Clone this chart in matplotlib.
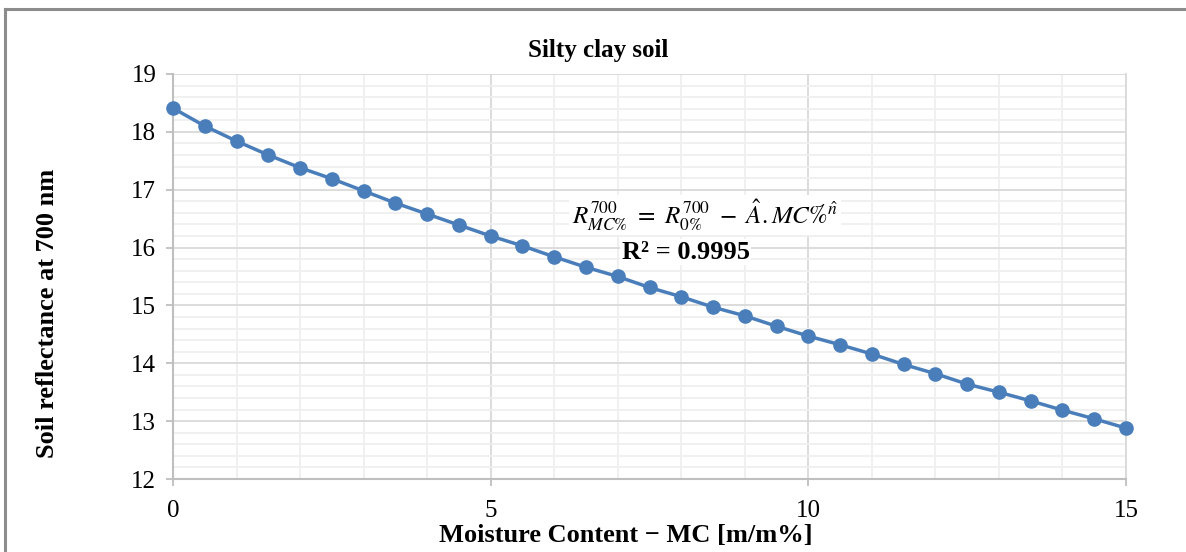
import matplotlib
matplotlib.use("Agg")
import matplotlib.pyplot as plt
from matplotlib.lines import Line2D
from matplotlib.ticker import MultipleLocator

# Moisture content (m/m %) and measured reflectance at 700 nm
moisture = [0, 0.5, 1, 1.5, 2, 2.5, 3, 3.5, 4, 4.5, 5, 5.5, 6, 6.5, 7, 7.5,
            8, 8.5, 9, 9.5, 10, 10.5, 11, 11.5, 12, 12.5, 13, 13.5, 14, 14.5, 15]
reflectance = [18.41, 18.10, 17.84, 17.60, 17.38, 17.19, 16.98, 16.77, 16.58,
               16.39, 16.20, 16.03, 15.84, 15.66, 15.50, 15.31, 15.15, 14.97,
               14.82, 14.64, 14.47, 14.32, 14.16, 13.98, 13.82, 13.64, 13.50,
               13.35, 13.19, 13.04, 12.88]

x_ticks = [0, 5, 10, 15]
y_ticks = [12, 13, 14, 15, 16, 17, 18, 19]

title = "Silty clay soil"
x_label = "Moisture Content \u2212 MC [m/m%]"
y_label = "Soil reflectance at 700 nm"
equation = r"$R^{700}_{MC\%}\ =\ R^{700}_{0\%}\ -\ \hat{A}.MC\%^{\hat{n}}$"
r2_text = "R\u00b2 = 0.9995"

plt.rcParams["font.family"] = ["Liberation Serif", "DejaVu Serif"]
plt.rcParams["mathtext.fontset"] = "stix"

W, H = 1186, 552
fig = plt.figure(figsize=(W / 100, H / 100), dpi=100)
ax = fig.add_axes([173 / W, 1 - 479 / H, (1126 - 173) / W, (479 - 74) / H])

line_color = "#4A7EBB"
ax.plot(moisture, reflectance, color=line_color, lw=2.5, marker="o",
        markersize=9.5, zorder=3, clip_on=False)

ax.set_xlim(0, 15)
ax.set_ylim(12, 19)
ax.set_xticks(x_ticks)
ax.set_yticks(y_ticks)
ax.xaxis.set_minor_locator(MultipleLocator(1))
ax.yaxis.set_minor_locator(MultipleLocator(0.2))

ax.grid(which="major", color="#D9D9D9", lw=1.3, zorder=0)
ax.grid(which="minor", color="#EFEFEF", lw=1.3, zorder=0)
ax.set_axisbelow(True)

ax.spines["top"].set_visible(False)
ax.spines["right"].set_color("#D9D9D9")
ax.spines["right"].set_linewidth(1.3)
for s in ["left", "bottom"]:
    ax.spines[s].set_color("#BFBFBF")
    ax.spines[s].set_linewidth(1.5)

ax.tick_params(which="major", length=5, width=1.3, color="#BFBFBF",
               labelsize=18, pad=7)
ax.tick_params(which="minor", length=0)
ax.tick_params(axis="x", pad=10)

ax.set_xlabel(x_label, fontsize=19, fontweight="bold", va="top")
ax.xaxis.set_label_coords(0.475, -0.112)
ax.set_ylabel(y_label, fontsize=19, fontweight="bold")
ax.yaxis.set_label_coords(-0.12, 0.41)
ax.text(0.446, 1.043, title, transform=ax.transAxes, fontsize=18,
        fontweight="bold", ha="center", va="baseline")

ax.text(0.558, 0.652, equation, transform=ax.transAxes, fontsize=18,
        ha="center", va="center",
        bbox=dict(facecolor="white", edgecolor="none", pad=2))
ax.text(0.538, 0.56, r2_text, transform=ax.transAxes, fontsize=19,
        fontweight="bold", ha="center", va="center",
        bbox=dict(facecolor="white", edgecolor="none", pad=1))

# Outer chart frame (left and top edges)
frame_kw = dict(color="#8C8C8C", lw=2.2, transform=fig.transFigure)
fig.add_artist(Line2D([5 / W, 5 / W], [0, 1 - 9 / H], **frame_kw))
fig.add_artist(Line2D([5 / W, 1], [1 - 9 / H, 1 - 9 / H], **frame_kw))

fig.savefig("out.png", dpi=100)
